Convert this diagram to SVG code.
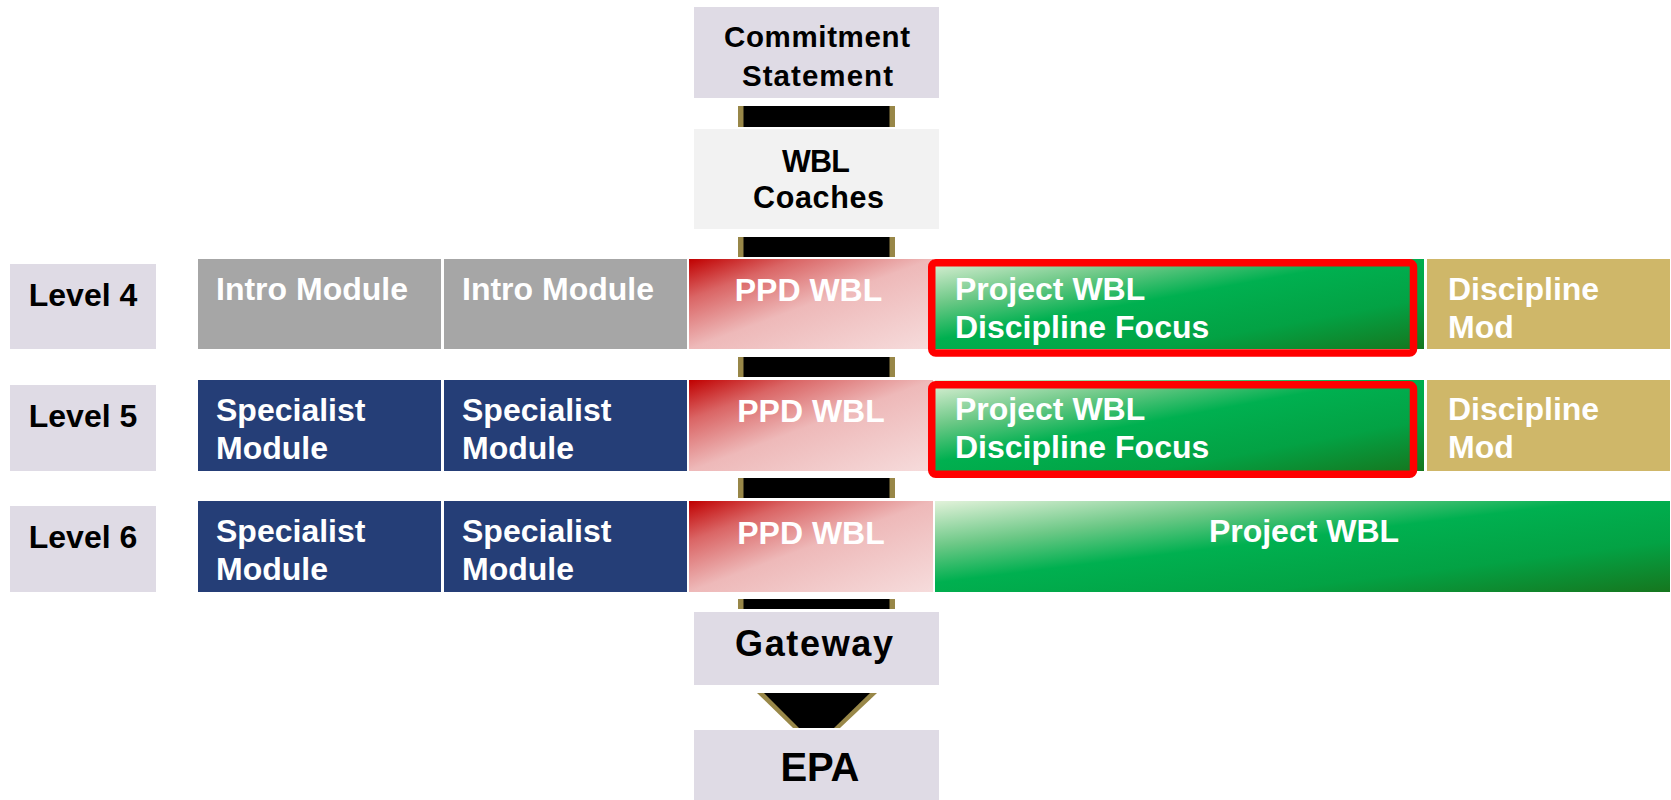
<svg xmlns="http://www.w3.org/2000/svg" width="1671" height="800" viewBox="0 0 1671 800">
<defs>
<linearGradient id="gPPD" x1="0" y1="0" x2="1" y2="1">
<stop offset="0" stop-color="#c00000"/>
<stop offset="0.22" stop-color="#da6565"/>
<stop offset="0.5" stop-color="#eeb9b9"/>
<stop offset="1" stop-color="#f6dcdc"/>
</linearGradient>
<linearGradient id="gGreen" x1="0" y1="0" x2="1" y2="1">
<stop offset="0" stop-color="#e2f2da"/>
<stop offset="0.25" stop-color="#6cc886"/>
<stop offset="0.45" stop-color="#00b050"/>
<stop offset="0.72" stop-color="#03a244"/>
<stop offset="1" stop-color="#16761e"/>
</linearGradient>
<style>
text{font-family:"Liberation Sans",Arial,Helvetica,sans-serif;font-weight:bold;}
.lav{fill:#dfdbe5;}
.lt{fill:#000;font-size:32px;text-anchor:middle;}
.wt{fill:#fff;font-size:32px;}
.wc{fill:#fff;font-size:32px;text-anchor:middle;}
.bk{fill:#000;text-anchor:middle;}
.gray{fill:#a6a6a6;}
.blue{fill:#253e77;}
.gold{fill:#cfb769;}
.ppd{fill:url(#gPPD);}
.grn{fill:url(#gGreen);}
.hl{fill:none;stroke:#ff0000;stroke-width:7.5;}
.edge{fill:#988748;}
.bar{fill:#000;}
</style>
</defs>
<rect width="1671" height="800" fill="#fff"/>

<g id="connectors">
<rect class="edge" x="738" y="106" width="157" height="21"/><rect class="bar" x="743.5" y="106" width="146" height="21"/>
<rect class="edge" x="738" y="237" width="157" height="20"/><rect class="bar" x="743.5" y="237" width="146" height="20"/>
<rect class="edge" x="738" y="357" width="157" height="20"/><rect class="bar" x="743.5" y="357" width="146" height="20"/>
<rect class="edge" x="738" y="478" width="157" height="20"/><rect class="bar" x="743.5" y="478" width="146" height="20"/>
<rect class="edge" x="738" y="599" width="157" height="10"/><rect class="bar" x="743.5" y="599" width="146" height="10"/>
<polygon class="edge" points="757,693 877,693 840,728 793,728"/>
<polygon class="bar" points="764,693 870,693 834,728 799,728"/>
</g>

<g id="commitment">
<rect class="lav" x="694" y="7" width="245" height="91"/>
<text class="bk" x="817" y="46.7" font-size="29.5" textLength="186" lengthAdjust="spacing">Commitment</text>
<text class="bk" x="817.5" y="86" font-size="29.5" textLength="151" lengthAdjust="spacing">Statement</text>
</g>
<g id="wbl-coaches">
<rect x="694" y="129" width="245" height="100" fill="#f2f2f2"/>
<text class="bk" x="816" y="171.7" font-size="30.5" textLength="68" lengthAdjust="spacing">WBL</text>
<text class="bk" x="818.5" y="207.7" font-size="30.5" textLength="131" lengthAdjust="spacing">Coaches</text>
</g>

<g id="level4">
<rect class="lav" x="10" y="264" width="146" height="85"/>
<text class="lt" x="83" y="306">Level 4</text>
</g>
<g id="level5">
<rect class="lav" x="10" y="385" width="146" height="86"/>
<text class="lt" x="83" y="426.7">Level 5</text>
</g>
<g id="level6">
<rect class="lav" x="10" y="506" width="146" height="86"/>
<text class="lt" x="83" y="547.7">Level 6</text>
</g>

<g id="l4-intro1">
<rect class="gray" x="198" y="259" width="243" height="90"/>
<text class="wt" x="216" y="300">Intro Module</text>
</g>
<g id="l4-intro2">
<rect class="gray" x="444" y="259" width="243" height="90"/>
<text class="wt" x="462" y="300">Intro Module</text>
</g>
<g id="l4-ppd">
<rect class="ppd" x="689" y="259" width="244" height="90"/>
<text class="wc" x="808.5" y="300.7">PPD WBL</text>
</g>
<g id="l4-project">
<rect class="grn" x="935" y="259" width="489" height="90"/>
<rect class="hl" x="931.75" y="262.75" width="481.75" height="90.25" rx="4"/>
<text class="wt" x="955" y="300">Project WBL</text>
<text class="wt" x="955" y="338.3">Discipline Focus</text>
</g>
<g id="l4-discipline">
<rect class="gold" x="1427" y="259" width="243" height="90"/>
<text class="wt" x="1448" y="300">Discipline</text>
<text class="wt" x="1448" y="338.3">Mod</text>
</g>

<g id="l5-spec1">
<rect class="blue" x="198" y="380" width="243" height="91"/>
<text class="wt" x="216" y="420.7">Specialist</text>
<text class="wt" x="216" y="459.3">Module</text>
</g>
<g id="l5-spec2">
<rect class="blue" x="444" y="380" width="243" height="91"/>
<text class="wt" x="462" y="420.7">Specialist</text>
<text class="wt" x="462" y="459.3">Module</text>
</g>
<g id="l5-ppd">
<rect class="ppd" x="689" y="380" width="244" height="91"/>
<text class="wc" x="811" y="421.7">PPD WBL</text>
</g>
<g id="l5-project">
<rect class="grn" x="935" y="380" width="489" height="91"/>
<rect class="hl" x="931.75" y="384.75" width="481.75" height="89.5" rx="4"/>
<text class="wt" x="955" y="420">Project WBL</text>
<text class="wt" x="955" y="458.3">Discipline Focus</text>
</g>
<g id="l5-discipline">
<rect class="gold" x="1427" y="380" width="243" height="91"/>
<text class="wt" x="1448" y="420">Discipline</text>
<text class="wt" x="1448" y="458.3">Mod</text>
</g>

<g id="l6-spec1">
<rect class="blue" x="198" y="501" width="243" height="91"/>
<text class="wt" x="216" y="541.7">Specialist</text>
<text class="wt" x="216" y="580">Module</text>
</g>
<g id="l6-spec2">
<rect class="blue" x="444" y="501" width="243" height="91"/>
<text class="wt" x="462" y="541.7">Specialist</text>
<text class="wt" x="462" y="580">Module</text>
</g>
<g id="l6-ppd">
<rect class="ppd" x="689" y="501" width="244" height="91"/>
<text class="wc" x="811" y="544">PPD WBL</text>
</g>
<g id="l6-project">
<rect class="grn" x="935" y="501" width="735" height="91"/>
<text class="wc" x="1304" y="542.3">Project WBL</text>
</g>

<g id="gateway">
<rect class="lav" x="694" y="612" width="245" height="73"/>
<text class="bk" x="814" y="656" font-size="36" textLength="158" lengthAdjust="spacing">Gateway</text>
</g>
<g id="epa">
<rect class="lav" x="694" y="730" width="245" height="70"/>
<text class="bk" x="820" y="781" font-size="40" textLength="79" lengthAdjust="spacing">EPA</text>
</g>
</svg>
